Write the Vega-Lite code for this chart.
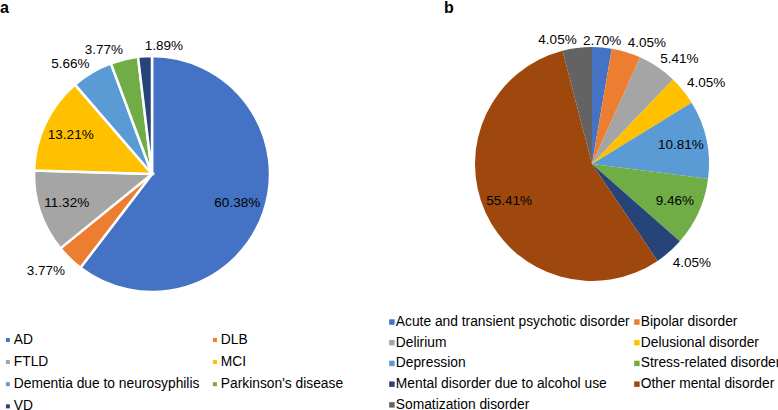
{
  "$schema": "https://vega.github.io/schema/vega-lite/v6.json",
  "width": 778,
  "height": 410,
  "autosize": {"type": "fit", "contains": "padding"},
  "padding": 0,
  "background": "white",
  "config": {"view": {"stroke": null}, "font": "Liberation Sans", "text": {"font": "Liberation Sans", "fontSize": 13.5, "color": "#000000"}},
  "datasets": {
    "dementia": [
      {"panel": "a", "cat": "AD", "pct": 0.6038, "rank": 1},
      {"panel": "a", "cat": "DLB", "pct": 0.0377, "rank": 2},
      {"panel": "a", "cat": "FTLD", "pct": 0.1132, "rank": 3},
      {"panel": "a", "cat": "MCI", "pct": 0.1321, "rank": 4},
      {"panel": "a", "cat": "Dementia due to neurosyphilis", "pct": 0.0566, "rank": 5},
      {"panel": "a", "cat": "Parkinson's disease", "pct": 0.0377, "rank": 6},
      {"panel": "a", "cat": "VD", "pct": 0.0189, "rank": 7}
    ],
    "mental": [
      {"panel": "b", "cat": "Acute and transient psychotic disorder", "pct": 0.027, "rank": 1},
      {"panel": "b", "cat": "Bipolar disorder", "pct": 0.0405, "rank": 2},
      {"panel": "b", "cat": "Delirium", "pct": 0.0541, "rank": 3},
      {"panel": "b", "cat": "Delusional disorder", "pct": 0.0405, "rank": 4},
      {"panel": "b", "cat": "Depression", "pct": 0.1081, "rank": 5},
      {"panel": "b", "cat": "Stress-related disorder", "pct": 0.0946, "rank": 6},
      {"panel": "b", "cat": "Mental disorder due to alcohol use", "pct": 0.0405, "rank": 7},
      {"panel": "b", "cat": "Other mental disorder", "pct": 0.5541, "rank": 8},
      {"panel": "b", "cat": "Somatization disorder", "pct": 0.0405, "rank": 9}
    ],
    "panels": [{"panel": "a"}, {"panel": "b"}]
  },
  "resolve": {
    "scale": {"x": "independent", "y": "independent", "theta": "independent", "color": "independent"},
    "legend": {"color": "independent"}
  },
  "layer": [
    {
      "data": {"name": "dementia"},
      "encoding": {
        "x": {"field": "panel", "type": "nominal", "scale": {"type": "point", "padding": 0, "domain": ["a", "b"], "range": [152, 592]}, "axis": null},
        "y": {"field": "panel", "type": "nominal", "scale": {"type": "point", "padding": 0, "domain": ["a", "b"], "range": [173, 163]}, "axis": null},
        "theta": {"field": "pct", "type": "quantitative", "stack": true},
        "order": {"field": "rank", "type": "quantitative"}
      },
      "layer": [
        {
          "mark": {"type": "arc", "outerRadius": 118, "stroke": "white", "strokeWidth": 2.5},
          "encoding": {
            "color": {
              "field": "cat", "type": "nominal",
              "scale": {
                "domain": ["AD", "DLB", "FTLD", "MCI", "Dementia due to neurosyphilis", "Parkinson's disease", "VD"],
                "range": ["#4472C4", "#ED7D31", "#A5A5A5", "#FFC000", "#5B9BD5", "#70AD47", "#264478"]
              },
              "legend": {
                "title": null, "orient": "none", "legendX": 1, "legendY": 332, "direction": "horizontal",
                "columns": 2, "columnPadding": 8, "rowPadding": 7.15, "padding": 0,
                "symbolType": "square", "symbolSize": 16, "symbolStrokeWidth": 0, "labelOffset": -1,
                "labelFont": "Liberation Sans", "labelFontSize": 13.8, "labelColor": "#000000", "labelLimit": 400
              }
            }
          }
        },
        {
          "mark": {"type": "text", "radius": 90},
          "encoding": {"text": {"condition": {"test": "datum.pct > 0.09", "field": "pct", "type": "quantitative", "format": ".2%"}, "value": ""}}
        },
        {
          "mark": {"type": "text", "radius": 119, "align": "center", "baseline": "alphabetic"},
          "encoding": {"text": {"condition": {"test": "datum.pct <= 0.09 && (datum.pct_start + datum.pct_end) / 2 < 0.02", "field": "pct", "type": "quantitative", "format": ".2%"}, "value": ""}}
        },
        {
          "mark": {"type": "text", "radius": 124, "align": "left", "baseline": "alphabetic"},
          "encoding": {"text": {"condition": {"test": "datum.pct <= 0.09 && (((datum.pct_start + datum.pct_end) / 2 >= 0.02 && (datum.pct_start + datum.pct_end) / 2 < 0.25) || (datum.pct_start + datum.pct_end) / 2 >= 0.99)", "field": "pct", "type": "quantitative", "format": ".2%"}, "value": ""}}
        },
        {
          "mark": {"type": "text", "radius": 123, "align": "left", "baseline": "top"},
          "encoding": {"text": {"condition": {"test": "datum.pct <= 0.09 && (datum.pct_start + datum.pct_end) / 2 >= 0.25 && (datum.pct_start + datum.pct_end) / 2 < 0.5", "field": "pct", "type": "quantitative", "format": ".2%"}, "value": ""}}
        },
        {
          "mark": {"type": "text", "radius": 125, "align": "right", "baseline": "top"},
          "encoding": {"text": {"condition": {"test": "datum.pct <= 0.09 && (datum.pct_start + datum.pct_end) / 2 >= 0.5 && (datum.pct_start + datum.pct_end) / 2 < 0.75", "field": "pct", "type": "quantitative", "format": ".2%"}, "value": ""}}
        },
        {
          "mark": {"type": "text", "radius": 123, "align": "right", "baseline": "alphabetic"},
          "encoding": {"text": {"condition": {"test": "datum.pct <= 0.09 && (datum.pct_start + datum.pct_end) / 2 >= 0.75 && (datum.pct_start + datum.pct_end) / 2 < 0.99", "field": "pct", "type": "quantitative", "format": ".2%"}, "value": ""}}
        }
      ]
    },
    {
      "data": {"name": "mental"},
      "encoding": {
        "x": {"field": "panel", "type": "nominal", "scale": {"type": "point", "padding": 0, "domain": ["a", "b"], "range": [152, 592]}, "axis": null},
        "y": {"field": "panel", "type": "nominal", "scale": {"type": "point", "padding": 0, "domain": ["a", "b"], "range": [173, 163]}, "axis": null},
        "theta": {"field": "pct", "type": "quantitative", "stack": true},
        "order": {"field": "rank", "type": "quantitative"}
      },
      "layer": [
        {
          "mark": {"type": "arc", "outerRadius": 117},
          "encoding": {
            "color": {
              "field": "cat", "type": "nominal",
              "scale": {
                "domain": ["Acute and transient psychotic disorder", "Bipolar disorder", "Delirium", "Delusional disorder", "Depression", "Stress-related disorder", "Mental disorder due to alcohol use", "Other mental disorder", "Somatization disorder"],
                "range": ["#4472C4", "#ED7D31", "#A5A5A5", "#FFC000", "#5B9BD5", "#70AD47", "#264478", "#9E480E", "#636363"]
              },
              "legend": {
                "title": null, "orient": "none", "legendX": 385, "legendY": 314, "direction": "horizontal",
                "columns": 2, "columnPadding": -4, "rowPadding": 5.75, "padding": 0,
                "symbolType": "square", "symbolSize": 30, "symbolStrokeWidth": 0, "labelOffset": -3,
                "labelFont": "Liberation Sans", "labelFontSize": 13.8, "labelColor": "#000000", "labelLimit": 400
              }
            }
          }
        },
        {
          "mark": {"type": "text", "radius": 91},
          "encoding": {"text": {"condition": {"test": "datum.pct > 0.09", "field": "pct", "type": "quantitative", "format": ".2%"}, "value": ""}}
        },
        {
          "mark": {"type": "text", "radius": 119, "align": "center", "baseline": "alphabetic"},
          "encoding": {"text": {"condition": {"test": "datum.pct <= 0.09 && (datum.pct_start + datum.pct_end) / 2 < 0.02", "field": "pct", "type": "quantitative", "format": ".2%"}, "value": ""}}
        },
        {
          "mark": {"type": "text", "radius": 122, "align": "left", "baseline": "alphabetic"},
          "encoding": {"text": {"condition": {"test": "datum.pct <= 0.09 && (((datum.pct_start + datum.pct_end) / 2 >= 0.02 && (datum.pct_start + datum.pct_end) / 2 < 0.25) || (datum.pct_start + datum.pct_end) / 2 >= 0.99)", "field": "pct", "type": "quantitative", "format": ".2%"}, "value": ""}}
        },
        {
          "mark": {"type": "text", "radius": 122, "align": "left", "baseline": "top"},
          "encoding": {"text": {"condition": {"test": "datum.pct <= 0.09 && (datum.pct_start + datum.pct_end) / 2 >= 0.25 && (datum.pct_start + datum.pct_end) / 2 < 0.5", "field": "pct", "type": "quantitative", "format": ".2%"}, "value": ""}}
        },
        {
          "mark": {"type": "text", "radius": 122, "align": "right", "baseline": "top"},
          "encoding": {"text": {"condition": {"test": "datum.pct <= 0.09 && (datum.pct_start + datum.pct_end) / 2 >= 0.5 && (datum.pct_start + datum.pct_end) / 2 < 0.75", "field": "pct", "type": "quantitative", "format": ".2%"}, "value": ""}}
        },
        {
          "mark": {"type": "text", "radius": 121, "align": "right", "baseline": "alphabetic"},
          "encoding": {"text": {"condition": {"test": "datum.pct <= 0.09 && (datum.pct_start + datum.pct_end) / 2 >= 0.75 && (datum.pct_start + datum.pct_end) / 2 < 0.99", "field": "pct", "type": "quantitative", "format": ".2%"}, "value": ""}}
        }
      ]
    },
    {
      "data": {"name": "panels"},
      "mark": {"type": "text", "fontWeight": "bold", "fontSize": 16, "align": "left", "baseline": "alphabetic"},
      "encoding": {
        "x": {"field": "panel", "type": "nominal", "scale": {"type": "point", "padding": 0, "domain": ["a", "b"], "range": [0, 444]}, "axis": null},
        "y": {"field": "panel", "type": "nominal", "scale": {"type": "point", "padding": 0, "domain": ["a", "b"], "range": [12, 12]}, "axis": null},
        "text": {"field": "panel"}
      }
    }
  ]
}
